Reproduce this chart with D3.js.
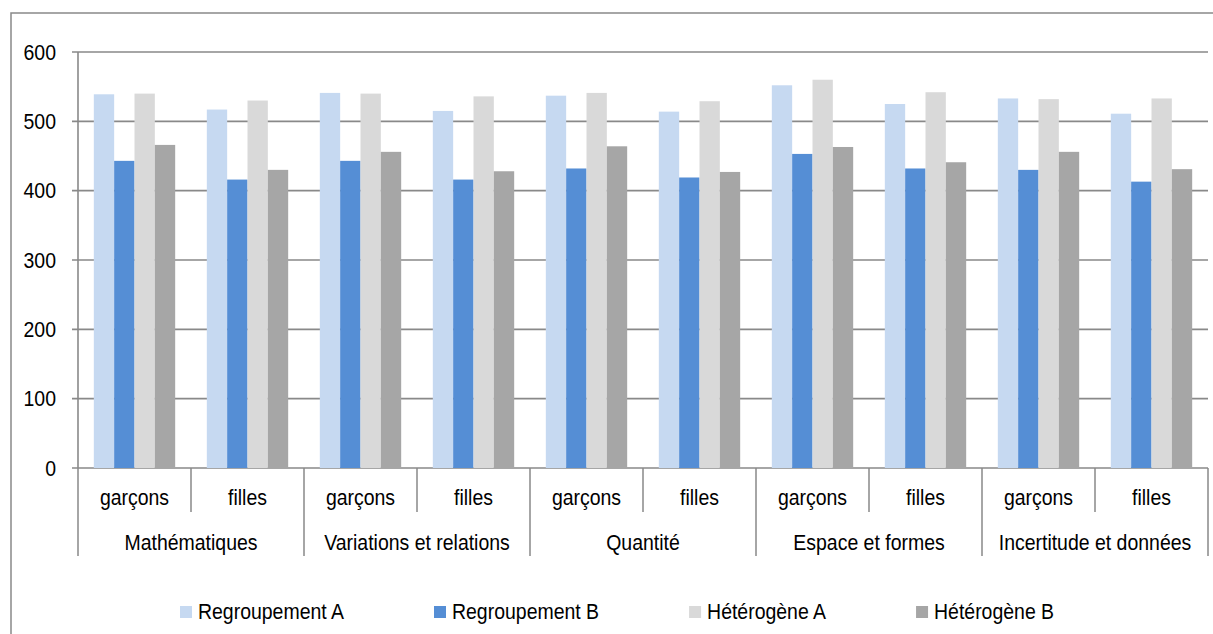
<!DOCTYPE html>
<html>
<head>
<meta charset="utf-8">
<script src="https://cdn.jsdelivr.net/npm/d3@7"></script>
<style>
  html, body { margin: 0; padding: 0; background: #fff; }
  svg text { font-family: "Liberation Sans", Arial, sans-serif; fill: #000; }
</style>
</head>
<body>
<svg id="chart" width="1213" height="634"></svg>
<script>
// Domains (outer level) and gender (inner level) of the category axis
const domains = ["Mathématiques", "Variations et relations", "Quantité", "Espace et formes", "Incertitude et données"];
const genders = ["garçons", "filles"];

// Series names and colours
const seriesNames = ["Regroupement A", "Regroupement B", "Hétérogène A", "Hétérogène B"];
const seriesColors = ["#C6D9F1", "#558ED5", "#D9D9D9", "#A6A6A6"];

// Scores, one value per (domain, gender) pair, in axis order
const regroupementA = [539, 517, 541, 515, 537, 514, 552, 525, 533, 511];
const regroupementB = [443, 416, 443, 416, 432, 419, 453, 432, 430, 413];
const heterogeneA   = [540, 530, 540, 536, 541, 529, 560, 542, 532, 533];
const heterogeneB   = [466, 430, 456, 428, 464, 427, 463, 441, 456, 431];

// Value axis ticks
const yTicks = [0, 100, 200, 300, 400, 500, 600];

const series = [regroupementA, regroupementB, heterogeneA, heterogeneB];

const svg = d3.select("#chart");
const FONT = 21.5;     // slightly condensed face: tall glyphs, narrow advance
const SX = 0.905;
const gridColor = "#898989";

// place a condensed text label at (x, y)
function label(sel, x, y) {
  return sel.attr("x", 0).attr("y", 0)
    .attr("transform", (d, i) => `translate(${typeof x === "function" ? x(d, i) : x},${typeof y === "function" ? y(d, i) : y}) scale(${SX},1)`)
    .style("font-size", FONT + "px");
}

// Outer frame (right and bottom edges fall outside the view)
svg.append("rect")
  .attr("x", 11).attr("y", 13)
  .attr("width", 1300).attr("height", 700)
  .attr("fill", "none").attr("stroke", gridColor).attr("stroke-width", 1.5);

const plot = { left: 78, right: 1208, top: 52, bottom: 468 };

const y = d3.scaleLinear().domain([0, 600]).range([plot.bottom, plot.top]);

const keys = [];
domains.forEach(d => genders.forEach(g => keys.push(d + "|" + g)));
const x0 = d3.scaleBand().domain(keys).range([plot.left, plot.right]).paddingInner(0.28).paddingOuter(0.14);
const x1 = d3.scaleBand().domain(d3.range(seriesNames.length)).range([0, x0.bandwidth()]).padding(0);

// Horizontal gridlines with tick marks
const yAxis = svg.append("g");
yAxis.selectAll("line.grid").data(yTicks).join("line")
  .attr("class", "grid")
  .attr("x1", plot.left - 6).attr("x2", plot.right)
  .attr("y1", d => y(d)).attr("y2", d => y(d))
  .attr("stroke", gridColor).attr("stroke-width", 1.6);
label(yAxis.selectAll("text").data(yTicks).join("text"), plot.left - 22, d => y(d) + 7.5)
  .attr("text-anchor", "end")
  .text(d => d);

// Bars
const groups = svg.append("g").selectAll("g").data(keys).join("g")
  .attr("transform", k => `translate(${x0(k)},0)`);
groups.selectAll("rect")
  .data((k, i) => series.map((s, j) => ({ j, v: s[i] })))
  .join("rect")
  .attr("x", d => x1(d.j))
  .attr("width", x1.bandwidth())
  .attr("y", d => y(d.v))
  .attr("height", d => y(0) - y(d.v))
  .attr("fill", d => seriesColors[d.j]);

// Value axis line
svg.append("line")
  .attr("x1", plot.left).attr("x2", plot.left)
  .attr("y1", plot.top).attr("y2", plot.bottom)
  .attr("stroke", gridColor).attr("stroke-width", 1.6);

// Multi-level category axis
const step = x0.step();
const cat = svg.append("g");
// dividers between genders (short) and between domains (long)
d3.range(keys.length + 1).forEach(i => {
  const xx = plot.left + i * step;
  const long = i % genders.length === 0;
  cat.append("line")
    .attr("x1", xx).attr("x2", xx)
    .attr("y1", plot.bottom).attr("y2", long ? 556 : 512)
    .attr("stroke", gridColor).attr("stroke-width", 1.5);
});
label(cat.selectAll("text.g").data(keys).join("text").attr("class", "g"),
      k => x0(k) + x0.bandwidth() / 2, 505)
  .attr("text-anchor", "middle")
  .text(k => k.split("|")[1]);
label(cat.selectAll("text.d").data(domains).join("text").attr("class", "d"),
      (d, i) => plot.left + (i + 0.5) * step * genders.length, 550)
  .attr("text-anchor", "middle")
  .text(d => d);

// Legend
const legend = svg.append("g");
let lx = 180;
seriesNames.forEach((name, i) => {
  legend.append("rect")
    .attr("x", lx).attr("y", 606)
    .attr("width", 12).attr("height", 12)
    .attr("fill", seriesColors[i]);
  const t = label(legend.append("text"), lx + 18, 619).text(name);
  lx += 18 + t.node().getComputedTextLength() * SX + 90;
});
</script>
</body>
</html>
